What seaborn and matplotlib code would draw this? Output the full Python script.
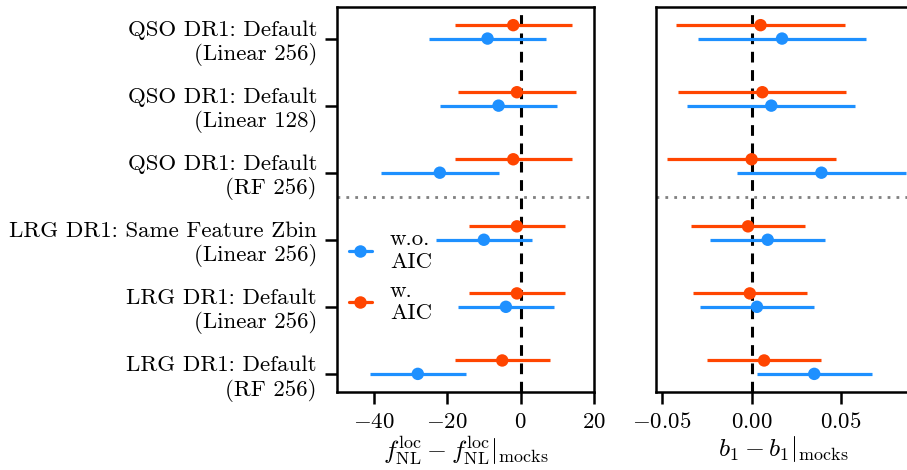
"""
Forest plot of f_NL^loc and b_1 offsets for each imaging-systematics setup,
with and without the AIC selection.
"""

import matplotlib
import matplotlib.pyplot as plt
import numpy as np
import pandas as pd
import seaborn as sns
from matplotlib.lines import Line2D

matplotlib.use("Agg")

# ---------------------------------------------------------------------------
# Data (rows listed top to bottom)
# ---------------------------------------------------------------------------
ROW_LABELS = [
    "QSO DR1: Default\n(Linear 256)",
    "QSO DR1: Default\n(Linear 128)",
    "QSO DR1: Default\n(RF 256)",
    "LRG DR1: Same Feature Zbin\n(Linear 256)",
    "LRG DR1: Default\n(Linear 256)",
    "LRG DR1: Default\n(RF 256)",
]

fnl_woaic = [-9, -6, -22, -10, -4, -28]
fnl_woaic_err = [16, 16, 16, 13, 13, 13]
fnl_waic = [-2, -1, -2, -1, -1, -5]
fnl_waic_err = [16, 16, 16, 13, 13, 13]

b1_woaic = [0.017, 0.011, 0.039, 0.009, 0.003, 0.035]
b1_woaic_err = [0.047, 0.047, 0.047, 0.032, 0.032, 0.032]
b1_waic = [0.005, 0.006, 0.0, -0.002, -0.001, 0.007]
b1_waic_err = [0.047, 0.047, 0.047, 0.032, 0.032, 0.032]

SERIES = ["w.o.\nAIC", "w.\nAIC"]
COLORS = {"w.o.\nAIC": "dodgerblue", "w.\nAIC": "orangered"}

FNL_TICKS = [-40, -20, 0, 20]
B1_TICKS = [-0.05, 0.0, 0.05]

FS = 16.5
FS_XLABEL = 18.5


def build_frame(woaic, woaic_err, waic, waic_err):
    n = len(ROW_LABELS)
    ypos = np.arange(n)[::-1].astype(float)
    df_wo = pd.DataFrame({"y": ypos, "val": woaic, "err": woaic_err,
                          "series": SERIES[0]})
    df_w = pd.DataFrame({"y": ypos + 0.2, "val": waic, "err": waic_err,
                         "series": SERIES[1]})
    return pd.concat([df_wo, df_w], ignore_index=True)


def draw_panel(ax, df):
    for name in SERIES:
        sub = df[df["series"] == name]
        ax.errorbar(sub["val"], sub["y"], xerr=sub["err"], fmt="none",
                    ecolor=COLORS[name], elinewidth=2.3, capsize=0, zorder=2)
    sns.scatterplot(data=df, x="val", y="y", hue="series", palette=COLORS,
                    s=80, edgecolor="none", legend=False, ax=ax, zorder=3)
    ax.axvline(0, color="black", ls=(0, (3.5, 2.5)), lw=2.2, zorder=1)
    ax.axhline(2.64, color="grey", ls=(0, (1, 2.2)), lw=2, zorder=1)
    ax.set_ylim(-0.27, 5.47)
    ax.set_ylabel("")


sns.set_style("ticks")
plt.rcParams["font.family"] = "serif"
plt.rcParams["font.serif"] = ["cmr10", "DejaVu Serif"]
plt.rcParams["mathtext.fontset"] = "cm"
plt.rcParams["axes.formatter.use_mathtext"] = True
plt.rcParams["axes.linewidth"] = 1.8
plt.rcParams["axes.edgecolor"] = "black"
plt.rcParams["text.color"] = "black"
plt.rcParams["xtick.color"] = "black"
plt.rcParams["ytick.color"] = "black"
plt.rcParams["axes.labelcolor"] = "black"

fig = plt.figure(figsize=(9.07, 4.70), dpi=100)
ax1 = fig.add_axes([0.3716, 0.166, 0.2833, 0.819])
ax2 = fig.add_axes([0.7233, 0.166, 0.2800, 0.819])

df_fnl = build_frame(fnl_woaic, fnl_woaic_err, fnl_waic, fnl_waic_err)
df_b1 = build_frame(b1_woaic, b1_woaic_err, b1_waic, b1_waic_err)

draw_panel(ax1, df_fnl)
draw_panel(ax2, df_b1)

# left panel
ax1.set_xlim(-50, 20)
ax1.set_xticks(FNL_TICKS)
ax1.set_yticks(np.arange(len(ROW_LABELS))[::-1])
ax1.set_yticklabels(ROW_LABELS, fontsize=FS)
ax1.set_xlabel(r"$f_{\rm NL}^{\rm loc} - f_{\rm NL}^{\rm loc}|_{\rm mocks}$",
               fontsize=FS_XLABEL, labelpad=1)
ax1.tick_params(axis="both", length=8.5, width=1.8, labelsize=FS, pad=6)

# right panel
ax2.set_xlim(-0.0534, 0.0885)
ax2.set_xticks(B1_TICKS)
ax2.set_xticklabels([r"$-0.05$", r"$0.00$", r"$0.05$"])
ax2.set_yticks([])
ax2.set_xlabel(r"$b_1 - b_1|_{\rm mocks}$", fontsize=FS_XLABEL, labelpad=1)
ax2.spines["right"].set_visible(False)
ax2.tick_params(axis="x", length=8.5, width=1.8, labelsize=FS, pad=6)

handles = [Line2D([], [], color=COLORS[name], lw=2.3, marker="o",
                  markersize=9, markeredgewidth=0) for name in SERIES]
ax1.legend(handles, SERIES, loc="center left", bbox_to_anchor=(-0.035, 0.30),
           frameon=False, fontsize=FS, handlelength=1.0, handletextpad=0.8,
           labelspacing=0.4)

fig.savefig("out.png", dpi=100)
